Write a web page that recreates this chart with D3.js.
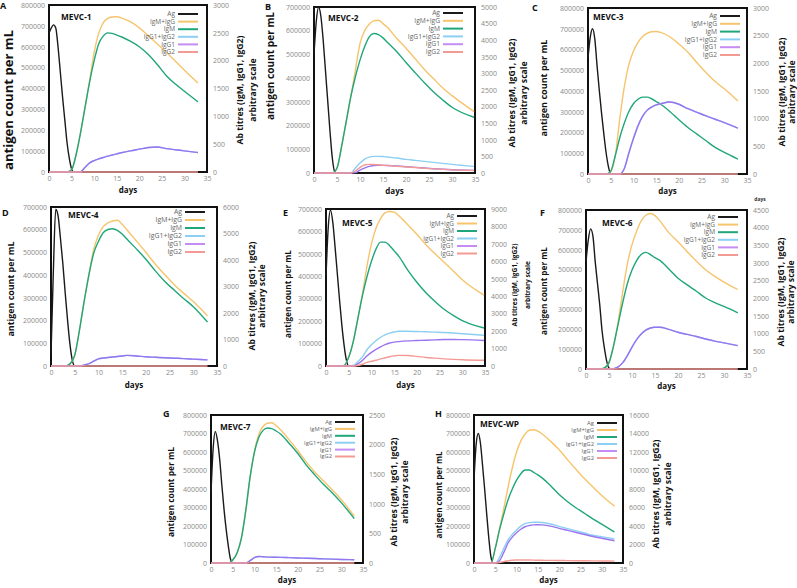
<!DOCTYPE html>
<html><head><meta charset="utf-8">
<script src="https://cdn.jsdelivr.net/npm/d3@7"></script>
<style>body{margin:0;background:#fff} svg{display:block}</style>
</head><body>
<svg id="c" width="797" height="588"></svg>
<script>
// ---------- data ----------
const seriesNames = ["Ag","IgM+IgG","IgM","IgG1+IgG2","IgG1","IgG2"];
const panelLetters = ["A","B","C","D","E","F","G","H"];
const panelTitles = ["MEVC-1","MEVC-2","MEVC-3","MEVC-4","MEVC-5","MEVC-6","MEVC-7","MEVC-WP"];
const leftMax = [800000,700000,800000,700000,700000,800000,800000,800000];
const rightMax = [3000,5000,3000,6000,9000,4500,2500,16000];
const rightStep = [500,500,500,1000,1000,500,500,2000];
const xTicks = [0,5,10,15,20,25,30,35];

const agDays = [0,0.5,1,1.5,2,2.5,3,3.5,4,4.5,5,5.5];
const abDays = [0,3,4,5,6,7,8,9,10,11,12,13,14,15,16,18,20,22,24,26,28,30,33];
const abDaysLong = [0,3,4,5,6,7,8,9,10,11,12,13,14,15,16,18,20,22,24,26,28,30,34.8];

const agA = [665000,690000,705000,690000,600000,480000,360000,250000,140000,65000,15000,0];
const agB = [500000,640000,700000,660000,560000,430000,300000,170000,60000,5000,0,0];
const agC = [560000,660000,700000,650000,520000,400000,290000,190000,100000,35000,0,0];
const agD = [50000,420000,690000,660000,560000,450000,320000,200000,95000,25000,0,0];
const agE = [400000,620000,695000,640000,530000,410000,290000,180000,90000,25000,0,0];
const agF = [540000,650000,705000,670000,540000,430000,320000,190000,105000,40000,5000,0];
const agG = [380000,620000,710000,660000,560000,420000,290000,180000,90000,20000,0,0];
const agH = [450000,640000,700000,650000,530000,400000,260000,130000,30000,0,0,0];

const igmIggA = [0,0,0,40,310,710,1170,1640,2150,2490,2680,2760,2785,2790,2770,2700,2590,2450,2300,2150,1990,1830,1600];
const igmA    = [0,0,0,40,310,710,1170,1620,2000,2300,2440,2500,2490,2460,2430,2350,2250,2110,1930,1730,1580,1450,1260];
const igg12A  = [0,0,0,0,0,5,85,165,205,235,260,285,305,325,345,380,410,440,450,420,400,380,350];
const igg1A   = [0,0,0,0,0,5,85,165,205,235,260,285,305,325,345,380,410,440,450,420,400,380,350];
const igg2A   = [0,0,0,0,0,0,0,0,0,0,0,0,0,0,0,0,0,0,0,0,0,0,0];

const igmIggB = [0,0,0,150,800,1550,2300,3100,3900,4280,4480,4580,4600,4500,4380,4050,3760,3440,3120,2840,2560,2330,1850];
const igmB    = [0,0,0,150,800,1550,2300,2900,3400,3800,4100,4200,4170,4070,3930,3650,3330,3020,2720,2440,2200,1980,1680];
const igg12B  = [0,0,0,0,0,0,0,150,300,420,480,500,500,495,480,450,410,380,350,320,290,260,200];
const igg1B   = [0,0,0,0,0,0,0,10,90,150,200,225,235,230,225,210,190,170,150,130,115,100,80];
const igg2B   = [0,0,0,0,0,0,0,60,170,240,260,255,245,235,225,205,185,165,145,125,110,95,75];

const igmIggC = [0,0,0,50,330,1000,1580,1980,2220,2380,2480,2540,2570,2575,2560,2480,2350,2200,2010,1830,1670,1540,1320];
const igmC    = [0,0,0,50,330,660,920,1130,1270,1350,1390,1390,1360,1310,1260,1130,980,840,720,600,480,390,270];
const igg12C  = [0,0,0,0,0,0,100,380,640,870,1040,1150,1210,1250,1270,1300,1260,1180,1115,1050,990,930,830];
const igg1C   = [0,0,0,0,0,0,100,380,640,870,1040,1150,1210,1250,1270,1300,1260,1180,1115,1050,990,930,830];
const igg2C   = [0,0,0,0,0,0,0,0,0,0,0,0,0,0,0,0,0,0,0,0,0,0,0];

const igmIggD = [0,0,80,400,1350,2450,3450,4400,4930,5260,5400,5470,5500,5350,5140,4720,4290,3840,3440,3070,2740,2430,1890];
const igmD    = [0,0,80,400,1350,2450,3450,4250,4700,5030,5150,5180,5120,4980,4790,4420,4030,3590,3190,2860,2540,2240,1660];
const igg12D  = [0,0,0,0,0,40,90,180,270,300,320,340,360,380,400,380,350,330,310,295,280,260,230];
const igg1D   = [0,0,0,0,0,40,90,180,270,300,320,340,360,380,400,380,350,330,310,295,280,260,230];
const igg2D   = [0,0,0,0,0,0,0,0,0,0,0,0,0,0,0,0,0,0,0,0,0,0,0];

const igmIggE = [0,0,30,500,1400,2700,4100,5700,7000,7900,8450,8780,8860,8820,8620,8100,7550,6950,6430,5950,5450,4950,4060];
const igmE    = [0,0,30,500,1400,2700,4000,5100,6000,6700,7100,7100,6900,6600,6300,5500,4800,4200,3700,3250,2900,2600,2180];
const igg12E  = [0,0,0,0,30,250,520,930,1220,1450,1650,1780,1880,1950,1990,1990,1975,1960,1940,1920,1890,1850,1760];
const igg1E   = [0,0,0,0,0,120,320,570,780,950,1100,1230,1320,1370,1400,1440,1460,1480,1500,1520,1520,1510,1460];
const igg2E   = [0,0,0,0,0,30,100,210,270,330,410,470,530,580,610,600,550,490,450,410,380,360,330];

const igmIggF = [0,0,30,180,660,1350,2200,2980,3520,3900,4190,4350,4400,4340,4200,3860,3600,3320,3050,2810,2620,2460,2250];
const igmF    = [0,0,30,180,660,1280,1890,2420,2800,3070,3240,3300,3240,3150,3080,2830,2570,2380,2200,2010,1880,1770,1590];
const igg12F  = [0,0,0,0,10,60,180,380,620,830,990,1100,1160,1180,1180,1120,1040,980,920,850,790,740,660];
const igg1F   = [0,0,0,0,10,60,180,380,620,830,990,1100,1160,1180,1180,1120,1040,980,920,850,790,740,660];
const igg2F   = [0,0,0,0,0,0,0,0,0,0,0,0,0,0,0,0,0,0,0,0,0,0,0];

const igmIggG = [0,0,0,50,170,420,880,1450,1890,2170,2310,2360,2370,2320,2250,2080,1900,1700,1530,1380,1230,1070,790];
const igmG    = [0,0,0,50,170,420,880,1450,1870,2120,2240,2280,2270,2230,2180,2020,1850,1650,1480,1320,1180,1020,750];
const igg12G  = [0,0,0,0,0,0,0,40,90,110,105,100,98,96,95,90,85,80,75,70,65,60,55];
const igg1G   = [0,0,0,0,0,0,0,40,90,110,105,100,98,96,95,90,85,80,75,70,65,60,55];
const igg2G   = [0,0,0,0,0,0,0,0,0,0,0,0,0,0,0,0,0,0,0,0,0,0,0];

const igmIggH = [0,0,0,1600,3700,5900,8200,10300,12000,13200,13950,14350,14400,14250,13950,13150,12250,11150,10100,9100,8200,7300,6150];
const igmH    = [0,0,0,1600,3600,5300,6830,8000,8950,9650,10050,10050,9800,9530,9200,8350,7400,6620,5950,5350,4750,4200,3350];
const igg12H  = [0,0,0,0,600,1600,2500,3100,3580,3980,4250,4370,4400,4400,4380,4220,3960,3720,3480,3240,3000,2850,2600];
const igg1H   = [0,0,0,0,250,1150,2160,2800,3270,3650,3920,4050,4120,4140,4120,3990,3750,3530,3300,3080,2870,2680,2410];
const igg2H   = [0,0,0,0,50,150,250,300,320,330,330,320,310,300,290,280,270,260,250,240,230,220,200];

// ---------- assembling ----------
const agSeries = [agA,agB,agC,agD,agE,agF,agG,agH];
const abSeries = [
  [igmIggA,igmA,igg12A,igg1A,igg2A],[igmIggB,igmB,igg12B,igg1B,igg2B],
  [igmIggC,igmC,igg12C,igg1C,igg2C],[igmIggD,igmD,igg12D,igg1D,igg2D],
  [igmIggE,igmE,igg12E,igg1E,igg2E],[igmIggF,igmF,igg12F,igg1F,igg2F],
  [igmIggG,igmG,igg12G,igg1G,igg2G],[igmIggH,igmH,igg12H,igg1H,igg2H]];
const panelDays = [abDays,abDaysLong,abDays,abDays,abDaysLong,abDays,abDays,abDays];

const colors = ["#1a1a1a","#f6c46c","#1fa67a","#8ccff3","#9a74f0","#f39a95"];
const legendColors = ["#1a1a1a","#f6c46c","#1fa67a","#8ccff3","#c58cf3","#f39a95"];

// layout: frame [x0,y0,x1,y1], letter pos, title pos, left title [x,y,size,len], right title [x1,x2,y,size], days y, legend [sx,y0,dy]
const layout = [
 {f:[49,5,207,172],  L:[0,9],     T:[61,20],   lt:[8,100,11.5,140],rt:[240,253,90,8.7],  dy:193, lg:[178,14,7.6]},
 {f:[314,7,475,173], L:[265,10],  T:[328,21],  lt:[270,66,10.5,108],rt:[512,524,93,8.7], dy:194, lg:[443,13,7.8]},
 {f:[588,8,747,174], L:[532,11],  T:[593,20],  lt:[543,88,9.5,97], rt:[782,792,92,8.7],  dy:194, lg:[720,16,7.8]},
 {f:[51,207,217,366],L:[2,216],   T:[68,218],  lt:[10,289,9.5,95], rt:[252,262,296,8.7], dy:388, lg:[185,212,8]},
 {f:[326,209,485,366],L:[283,216],T:[342,226], lt:[287,294,9,88],  rt:[514,527,285,6.6], dy:388, lg:[457,216,7.5]},
 {f:[586,210,747,369],L:[540,216],T:[602,226], lt:[543,291,9,88],  rt:[781,791,292,8.7], dy:389, lg:[718,217,7.6]},
 {f:[211,415,363,563],L:[163,417],T:[220,430], lt:[170,492,9,90],  rt:[394,405,492,8.7], dy:583, lg:[335,422,6.9]},
 {f:[474,415,623,563],L:[435,417],T:[480,427], lt:[438,495,9,87],  rt:[656,668,494,8.7], dy:583, lg:[597,423,7]}
];

const svg = d3.select("#c");
const FONT = "'Open Sans', sans-serif";

layout.forEach((lay, i) => {
  const [x0,y0,x1,y1] = lay.f;
  const g = svg.append("g");
  const x = d3.scaleLinear().domain([0,35]).range([x0,x1]);
  const yL = d3.scaleLinear().domain([0,leftMax[i]]).range([y1,y0]);
  const yR = d3.scaleLinear().domain([0,rightMax[i]]).range([y1,y0]);

  const styleAxis = sel => {
    sel.select(".domain").remove();
    sel.selectAll("text").attr("fill","#8a8a8a").style("font-family",FONT).style("font-size","7px");
  };
  g.append("g").attr("transform",`translate(${x0},0)`)
    .call(d3.axisLeft(yL).tickValues(d3.range(0,leftMax[i]+1,100000)).tickSize(0).tickPadding(4).tickFormat(d3.format("d")))
    .call(styleAxis);
  g.append("g").attr("transform",`translate(${x1},0)`)
    .call(d3.axisRight(yR).tickValues(d3.range(0,rightMax[i]+1,rightStep[i])).tickSize(0).tickPadding(6).tickFormat(d3.format("d")))
    .call(styleAxis);
  g.append("g").attr("transform",`translate(0,${y1})`)
    .call(d3.axisBottom(x).tickValues(xTicks).tickSize(0).tickPadding(4))
    .call(styleAxis);

  g.append("rect").attr("x",x0).attr("y",y0).attr("width",x1-x0).attr("height",y1-y0)
    .attr("fill","none").attr("stroke","#111").attr("stroke-width",2);

  const days = panelDays[i];
  const lastDay = days[days.length-1];
  const line = d3.line().curve(d3.curveMonotoneX);

  const agPts = agDays.map((d,k)=>[x(d), yL(agSeries[i][k])]);
  agPts.push([x(lastDay), yL(0)]);
  g.append("path").attr("d", line(agPts)).attr("fill","none")
    .attr("stroke",colors[0]).attr("stroke-width",1.4);

  abSeries[i].forEach((vals, s) => {
    const pts = days.map((d,k)=>[x(d), yR(vals[k])]);
    g.append("path").attr("d", line(pts)).attr("fill","none")
      .attr("stroke",colors[s+1]).attr("stroke-width",1.4);
  });

  // legend
  const [sx, ly0, ldy] = lay.lg;
  const lfs = Math.min(7, ldy - 1.1);
  seriesNames.forEach((nm, s) => {
    const yy = ly0 + s*ldy;
    g.append("line").attr("x1",sx).attr("x2",sx+20).attr("y1",yy).attr("y2",yy)
      .attr("stroke",legendColors[s]).attr("stroke-width",2);
    g.append("text").attr("x",sx-3).attr("y",yy).attr("dy","0.33em")
      .attr("text-anchor","end").attr("fill","#666")
      .style("font-family",FONT).style("font-size",lfs+"px").text(nm);
  });

  g.append("text").attr("x",lay.T[0]).attr("y",lay.T[1]).attr("fill","#111")
    .style("font-family",FONT).style("font-weight","bold").style("font-size","8.3px").text(panelTitles[i]);
  g.append("text").attr("x",lay.L[0]).attr("y",lay.L[1]).attr("fill","#111")
    .style("font-family",FONT).style("font-weight","bold").style("font-size","9px").text(panelLetters[i]);

  const [lx, lyc, ls, llen] = lay.lt;
  g.append("text").attr("transform",`translate(${lx},${lyc}) rotate(-90)`)
    .attr("text-anchor","middle").attr("dominant-baseline","central")
    .attr("textLength",llen).attr("lengthAdjust","spacingAndGlyphs")
    .attr("fill","#111").style("font-family",FONT).style("font-weight","bold").style("font-size",ls+"px")
    .text("antigen count per mL");

  const [rx1, rx2, ryc, rs] = lay.rt;
  g.append("text").attr("transform",`translate(${rx1},${ryc}) rotate(-90)`)
    .attr("text-anchor","middle").attr("dominant-baseline","central")
    .attr("fill","#111").style("font-family",FONT).style("font-weight","bold").style("font-size",rs+"px")
    .text("Ab titres (IgM, IgG1, IgG2)");
  g.append("text").attr("transform",`translate(${rx2},${ryc}) rotate(-90)`)
    .attr("text-anchor","middle").attr("dominant-baseline","central")
    .attr("fill","#111").style("font-family",FONT).style("font-weight","bold").style("font-size",rs+"px")
    .text("arbitrary scale");

  g.append("text").attr("x",(x0+x1)/2).attr("y",lay.dy).attr("text-anchor","middle")
    .attr("fill","#111").style("font-family",FONT).style("font-weight","bold").style("font-size","8px")
    .text("days");
});

svg.append("text").attr("x",760).attr("y",201).attr("text-anchor","middle").attr("fill","#333")
  .style("font-family",FONT).style("font-weight","bold").style("font-size","5px").text("days");
</script>
</body></html>
